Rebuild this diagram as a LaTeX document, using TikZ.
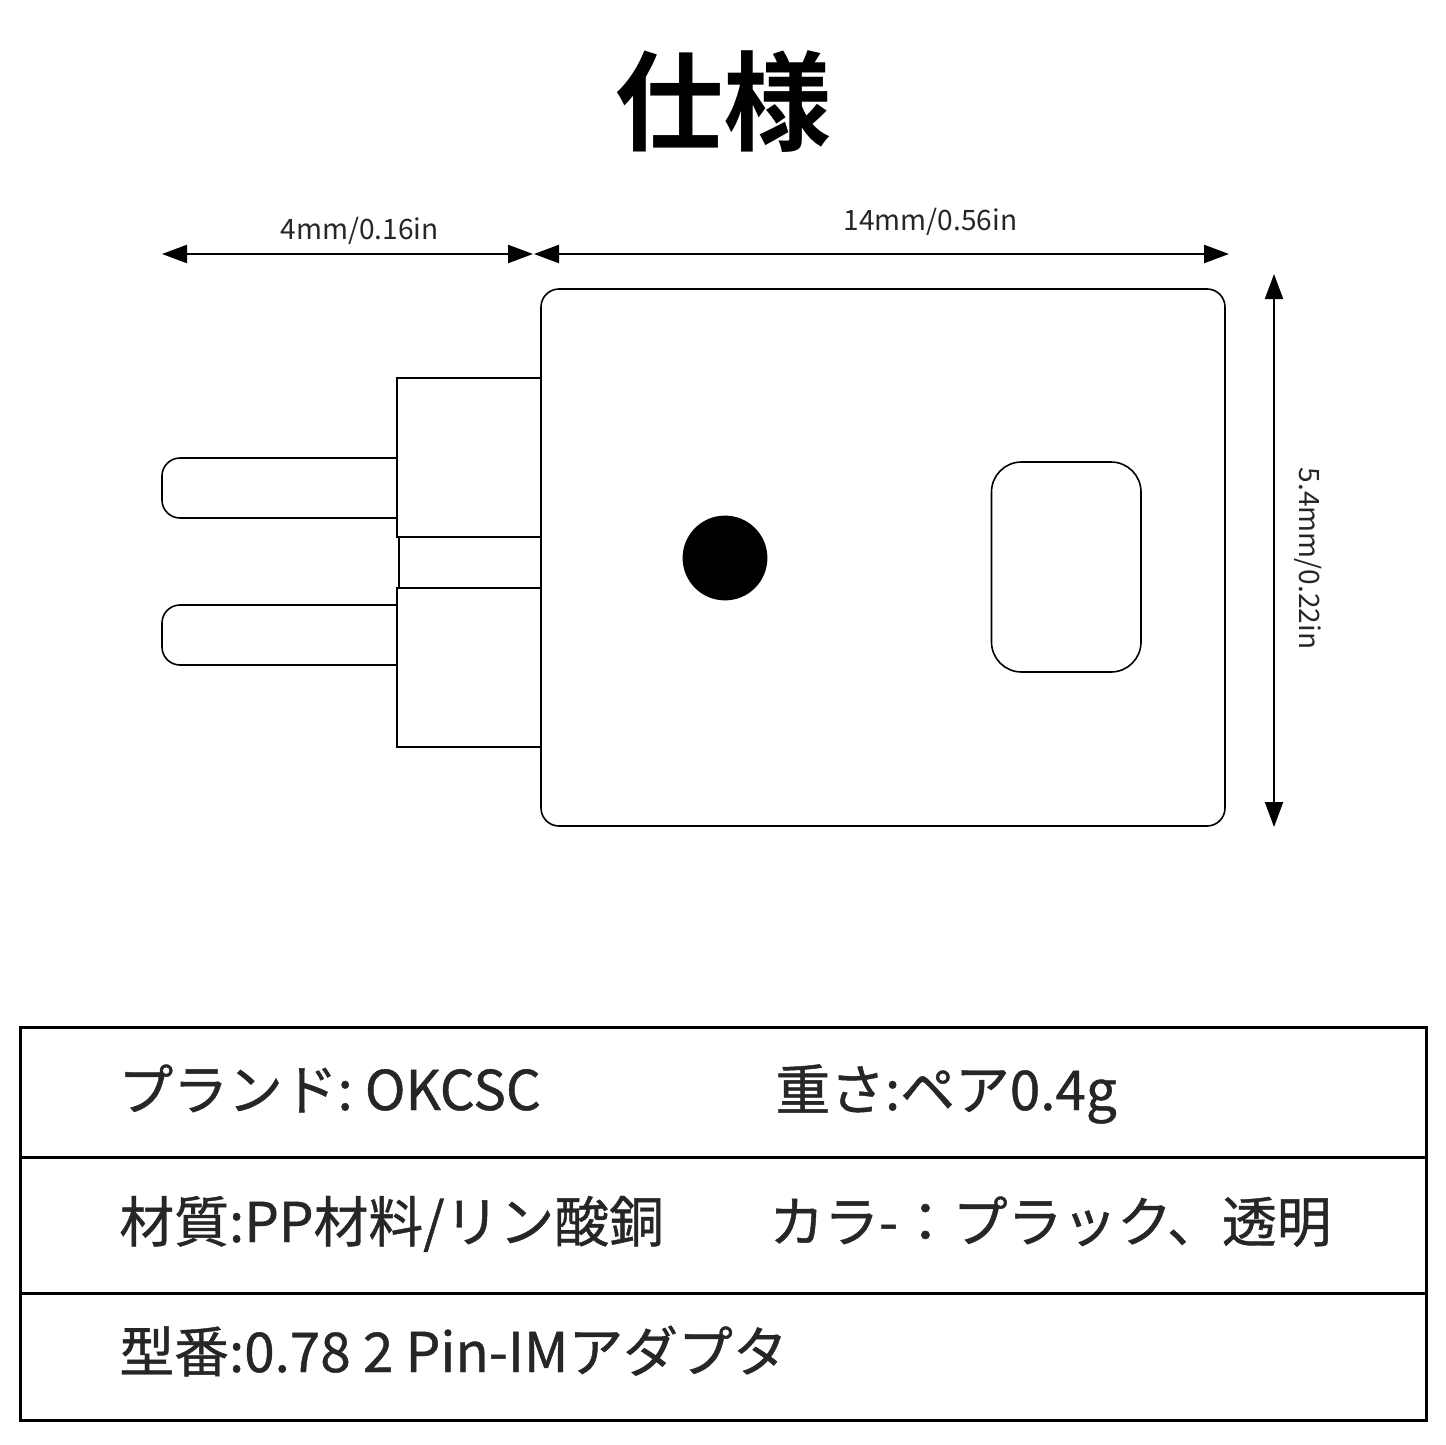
\documentclass[tikz,border=0pt]{standalone}
\usepackage{fontspec}
\setmainfont{Noto Sans CJK JP}[BoldFont={Noto Sans CJK JP Bold}]
\newfontfamily\rowfont{Noto Sans CJK JP}[FakeBold=0.8]
\usetikzlibrary{arrows.meta}

\tikzstyle{part}=[draw=black,line width=0.8pt,fill=white]
\tikzstyle{dim}=[black,line width=1.1pt,{Triangle[length=12.5pt,width=9pt]}-{Triangle[length=12.5pt,width=9pt]}]
\tikzstyle{dimtext}=[inner sep=0pt,text=black!85,font=\fontsize{14.05pt}{16pt}\selectfont]
\tikzstyle{rowtext}=[anchor=base west,inner sep=0pt,text=black!85,font=\rowfont\fontsize{27.4pt}{32pt}\selectfont]
\tikzstyle{rule}=[draw=black,line width=1.5pt]

\begin{document}
\begin{tikzpicture}[x=0.5pt,y=-0.5pt]
\useasboundingbox (0,0) rectangle (1445,1445);
\fill[white] (0,0) rectangle (1445,1445);

% Title
   \node[inner sep=0pt,text=black,font=\fontsize{54pt}{60pt}\selectfont\bfseries] (title) at (723,101.5) {仕様};

% Pins and blocks
   \foreach \y in {458,605}{
      \draw[part,rounded corners=9pt] (397,\y) -- (162,\y) -- (162,\y+60) -- (397,\y+60);
   }
   \draw[part] (399,537) rectangle (541,588);
   \draw[part] (397,378) rectangle (541,537);
   \draw[part] (397,588) rectangle (541,747);

% Body
   \draw[part,rounded corners=9pt] (541,289) rectangle (1225,826);
   \draw[part,rounded corners=15pt] (991.5,462) rectangle (1141,672);
   \fill[black] (725,558) circle (21.2pt);

% Dimensions
   \coordinate (d1l) at (162,254);
   \coordinate (d1r) at (533,254);
   \coordinate (d2l) at (534,254);
   \coordinate (d2r) at (1229,254);
   \coordinate (d3t) at (1274,274);
   \coordinate (d3b) at (1274,827);
   \draw[dim] (d1l) -- (d1r);
   \draw[dim] (d2l) -- (d2r);
   \draw[dim] (d3t) -- (d3b);
   \node[dimtext] (dimpin) at (359.5,231) {4mm/0.16in};
   \node[dimtext] (dimbody) at (930.5,222) {14mm/0.56in};
   \node[dimtext,rotate=-90] (dimheight) at (1308,558.5) {5.4mm/0.22in};

% Table
   \draw[rule] (20,1027) rectangle (1426,1420);
   \draw[rule] (20,1157.5) -- (1426,1157.5);
   \draw[rule] (20,1293) -- (1426,1293);

   \node[rowtext] (brand) at (118,1110) {プランド:\hspace{0.22em}OKCSC};
   \node[rowtext] (weight) at (775,1110) {重さ:ペア0.4g};
   \node[rowtext] (material) at (119,1242) {材質:PP材料/リン酸銅};
   \node[rowtext] (colour) at (769,1242) {カラ-：プラック、透明};
   \node[rowtext] (model) at (119,1372) {型番:0.78 2 Pin-IMアダプタ};

\end{tikzpicture}
\end{document}
